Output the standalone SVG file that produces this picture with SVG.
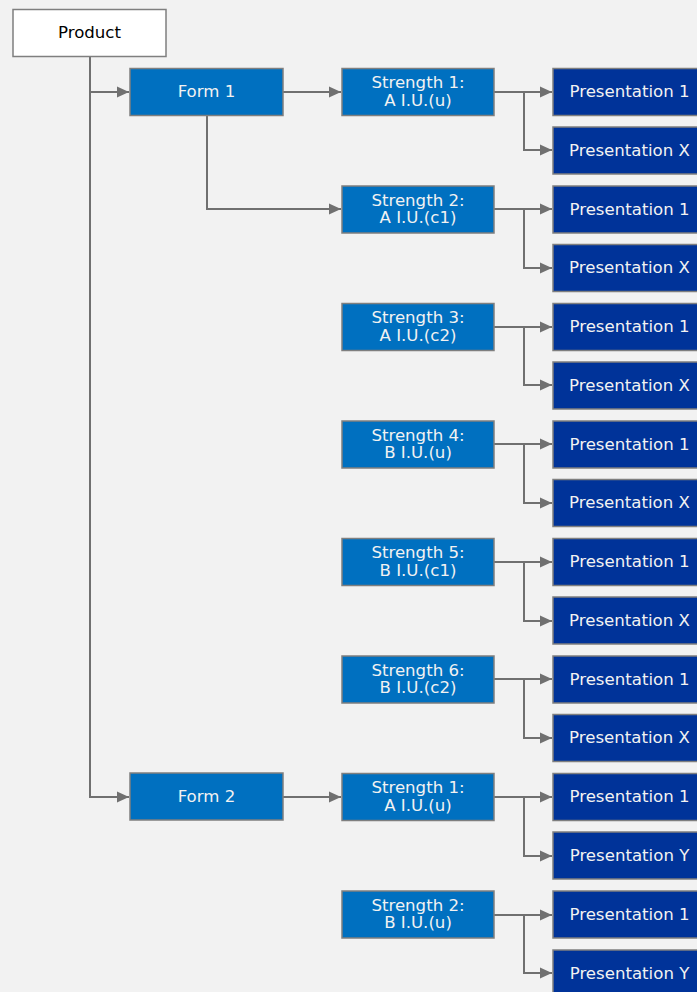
<svg xmlns="http://www.w3.org/2000/svg" width="697" height="992" viewBox="0 0 697 992">
<style>
.bx{stroke:#7f7f7f;stroke-width:1.5}
.wh{fill:#ffffff}
.md{fill:#0070c0}
.dk{fill:#003399}
.t{font-family:"DejaVu Sans","Verdana",sans-serif;font-size:16.6px;text-anchor:middle}
.tw{fill:#f2f2f2}
.tb{fill:#000000}
.c{fill:none;stroke:#707070;stroke-width:2}
</style>
<defs>
<marker id="ah" viewBox="0 0 12 12" refX="12" refY="6" markerWidth="12" markerHeight="12" markerUnits="userSpaceOnUse" orient="auto">
<path d="M0,0.5 L12,6 L0,11.5 Z" fill="#707070"/>
</marker>
</defs>
<rect width="697" height="992" fill="#f2f2f2"/>
<g id="connectors">
<path class="c" d="M90,57 V797 H129" marker-end="url(#ah)"/>
<path class="c" d="M90,92 H129" marker-end="url(#ah)"/>
<path class="c" d="M283,92 H341" marker-end="url(#ah)"/>
<path class="c" d="M207,116 V209 H341" marker-end="url(#ah)"/>
<path class="c" d="M283,797 H341" marker-end="url(#ah)"/>
<path class="c" d="M494,92 H552" marker-end="url(#ah)"/>
<path class="c" d="M524,92 V150 H552" marker-end="url(#ah)"/>
<path class="c" d="M494,209 H552" marker-end="url(#ah)"/>
<path class="c" d="M524,209 V268 H552" marker-end="url(#ah)"/>
<path class="c" d="M494,327 H552" marker-end="url(#ah)"/>
<path class="c" d="M524,327 V385 H552" marker-end="url(#ah)"/>
<path class="c" d="M494,444 H552" marker-end="url(#ah)"/>
<path class="c" d="M524,444 V503 H552" marker-end="url(#ah)"/>
<path class="c" d="M494,562 H552" marker-end="url(#ah)"/>
<path class="c" d="M524,562 V621 H552" marker-end="url(#ah)"/>
<path class="c" d="M494,679 H552" marker-end="url(#ah)"/>
<path class="c" d="M524,679 V738 H552" marker-end="url(#ah)"/>
<path class="c" d="M494,797 H552" marker-end="url(#ah)"/>
<path class="c" d="M524,797 V856 H552" marker-end="url(#ah)"/>
<path class="c" d="M494,915 H552" marker-end="url(#ah)"/>
<path class="c" d="M524,915 V973 H552" marker-end="url(#ah)"/>
</g>
<g id="product"><rect class="bx wh" x="13" y="9.5" width="153" height="47"/><text class="t tb" x="89.5" y="38">Product</text></g>
<g id="form1"><rect class="bx md" x="130" y="68.5" width="153" height="47"/><text class="t tw" x="206.5" y="97">Form 1</text></g>
<g id="form2"><rect class="bx md" x="130" y="773" width="153" height="47"/><text class="t tw" x="206.5" y="801.5">Form 2</text></g>
<g id="f1s1"><rect class="bx md" x="342" y="68.5" width="152" height="47"/><text class="t tw" x="418" y="88">Strength 1:</text><text class="t tw" x="418" y="105.5">A I.U.(u)</text></g>
<g id="f1s2"><rect class="bx md" x="342" y="186" width="152" height="47"/><text class="t tw" x="418" y="205.5">Strength 2:</text><text class="t tw" x="418" y="223">A I.U.(c1)</text></g>
<g id="f1s3"><rect class="bx md" x="342" y="303.5" width="152" height="47"/><text class="t tw" x="418" y="323">Strength 3:</text><text class="t tw" x="418" y="340.5">A I.U.(c2)</text></g>
<g id="f1s4"><rect class="bx md" x="342" y="421" width="152" height="47"/><text class="t tw" x="418" y="440.5">Strength 4:</text><text class="t tw" x="418" y="458">B I.U.(u)</text></g>
<g id="f1s5"><rect class="bx md" x="342" y="538.5" width="152" height="47"/><text class="t tw" x="418" y="558">Strength 5:</text><text class="t tw" x="418" y="575.5">B I.U.(c1)</text></g>
<g id="f1s6"><rect class="bx md" x="342" y="656" width="152" height="47"/><text class="t tw" x="418" y="675.5">Strength 6:</text><text class="t tw" x="418" y="693">B I.U.(c2)</text></g>
<g id="f2s1"><rect class="bx md" x="342" y="773.5" width="152" height="47"/><text class="t tw" x="418" y="793">Strength 1:</text><text class="t tw" x="418" y="810.5">A I.U.(u)</text></g>
<g id="f2s2"><rect class="bx md" x="342" y="891" width="152" height="47"/><text class="t tw" x="418" y="910.5">Strength 2:</text><text class="t tw" x="418" y="928">B I.U.(u)</text></g>
<g id="p0"><rect class="bx dk" x="553" y="68.5" width="153" height="47"/><text class="t tw" x="629.5" y="97">Presentation 1</text></g>
<g id="p1"><rect class="bx dk" x="553" y="127" width="153" height="47"/><text class="t tw" x="629.5" y="155.5">Presentation X</text></g>
<g id="p2"><rect class="bx dk" x="553" y="186" width="153" height="47"/><text class="t tw" x="629.5" y="214.5">Presentation 1</text></g>
<g id="p3"><rect class="bx dk" x="553" y="244.5" width="153" height="47"/><text class="t tw" x="629.5" y="273">Presentation X</text></g>
<g id="p4"><rect class="bx dk" x="553" y="303.5" width="153" height="47"/><text class="t tw" x="629.5" y="332">Presentation 1</text></g>
<g id="p5"><rect class="bx dk" x="553" y="362" width="153" height="47"/><text class="t tw" x="629.5" y="390.5">Presentation X</text></g>
<g id="p6"><rect class="bx dk" x="553" y="421" width="153" height="47"/><text class="t tw" x="629.5" y="449.5">Presentation 1</text></g>
<g id="p7"><rect class="bx dk" x="553" y="479.5" width="153" height="47"/><text class="t tw" x="629.5" y="508">Presentation X</text></g>
<g id="p8"><rect class="bx dk" x="553" y="538.5" width="153" height="47"/><text class="t tw" x="629.5" y="567">Presentation 1</text></g>
<g id="p9"><rect class="bx dk" x="553" y="597" width="153" height="47"/><text class="t tw" x="629.5" y="625.5">Presentation X</text></g>
<g id="p10"><rect class="bx dk" x="553" y="656" width="153" height="47"/><text class="t tw" x="629.5" y="684.5">Presentation 1</text></g>
<g id="p11"><rect class="bx dk" x="553" y="714.5" width="153" height="47"/><text class="t tw" x="629.5" y="743">Presentation X</text></g>
<g id="p12"><rect class="bx dk" x="553" y="773.5" width="153" height="47"/><text class="t tw" x="629.5" y="802">Presentation 1</text></g>
<g id="p13"><rect class="bx dk" x="553" y="832" width="153" height="47"/><text class="t tw" x="629.5" y="860.5">Presentation Y</text></g>
<g id="p14"><rect class="bx dk" x="553" y="891" width="153" height="47"/><text class="t tw" x="629.5" y="919.5">Presentation 1</text></g>
<g id="p15"><rect class="bx dk" x="553" y="950" width="153" height="47"/><text class="t tw" x="629.5" y="978.5">Presentation Y</text></g>
</svg>
